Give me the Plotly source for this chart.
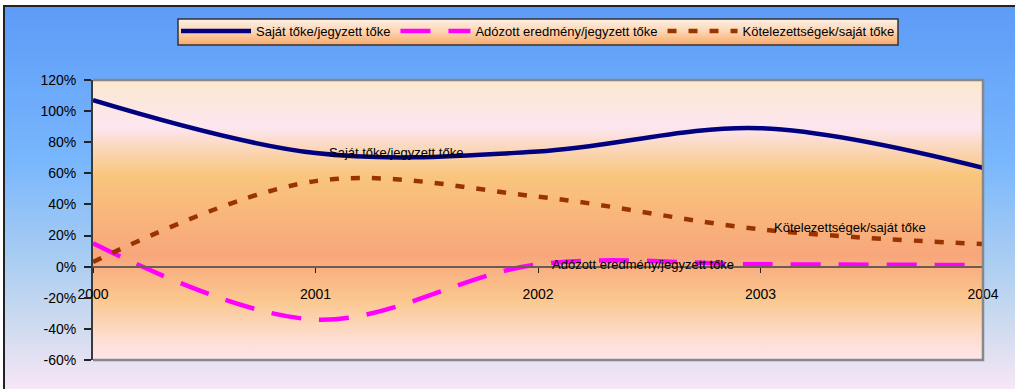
import base64
import plotly.graph_objects as go

# Financial ratios by year (percent)
years = [2000, 2001, 2002, 2003, 2004]
sajat_toke = [107, 73, 74, 89, 63.5]
adozott_eredmeny = [15, -34, 1.5, 1.5, 1]
kotelezettsegek = [3, 55, 45, 24, 14.5]

names = ["Saját tőke/jegyzett tőke", "Adózott eredmény/jegyzett tőke", "Kötelezettségek/saját tőke"]
y_ticks = [-60, -40, -20, 0, 20, 40, 60, 80, 100, 120]
y_tick_text = [f"{v}%" for v in y_ticks]
x_tick_text = [str(y) for y in years]

FONT = "Liberation Sans, Arial, sans-serif"

W, H = 1015, 389
L, R, T, B = 93, 32, 80, 29
PW, PH = W - L - R, H - T - B


def px_x(px):
    return (px - L) / PW


def px_y(py):
    return (H - B - py) / PH


def gradient(stops):
    parts = "".join(f'<stop offset="{o}" stop-color="{c}"/>' for o, c in stops)
    svg = (
        '<svg xmlns="http://www.w3.org/2000/svg" width="100" height="100" '
        'viewBox="0 0 100 100" preserveAspectRatio="none">'
        f'<defs><linearGradient id="g" x1="0" y1="0" x2="0" y2="1">{parts}</linearGradient></defs>'
        '<rect x="0" y="0" width="100" height="100" fill="url(#g)"/></svg>'
    )
    return "data:image/svg+xml;base64," + base64.b64encode(svg.encode()).decode()


outer_bg = gradient([(0, "#5d9bf8"), (0.40, "#78b6fd"), (0.66, "#a9cdf2"),
                     (0.85, "#d2dcef"), (1, "#f7e6f6")])
plot_bg = gradient([(0, "#fbe8ce"), (0.168, "#fde6f0"), (0.23, "#fbdac4"),
                    (0.34, "#f9c67c"), (0.48, "#f9b67c"), (0.625, "#f8a67b"),
                    (0.79, "#fbc890"), (0.91, "#fddccb"), (1, "#fde6ed")])
legend_bg = gradient([(0, "#fdf0e4"), (0.5, "#fcd4b0"), (1, "#f8a86a")])

fig = go.Figure()
fig.add_trace(go.Scatter(x=years, y=sajat_toke, name=names[0], mode="lines",
                         line=dict(color="#000080", width=4.5, shape="spline")))
fig.add_trace(go.Scatter(x=years, y=adozott_eredmeny, name=names[1], mode="lines",
                         line=dict(color="#ff00ff", width=4.5, shape="spline", dash="30px,18px")))
fig.add_trace(go.Scatter(x=years, y=kotelezettsegek, name=names[2], mode="lines",
                         line=dict(color="#993300", width=4.5, shape="spline", dash="9px,12px")))

images = [
    dict(source=outer_bg, xref="paper", yref="paper", x=px_x(4), y=px_y(6),
         sizex=(W - 4) / PW, sizey=(H - 6) / PH, xanchor="left", yanchor="top",
         sizing="stretch", layer="below"),
    dict(source=plot_bg, xref="paper", yref="paper", x=0, y=1, sizex=1, sizey=1,
         xanchor="left", yanchor="top", sizing="stretch", layer="below"),
    dict(source=legend_bg, xref="paper", yref="paper", x=px_x(178), y=px_y(19),
         sizex=720 / PW, sizey=26 / PH, xanchor="left", yanchor="top",
         sizing="stretch", layer="below"),
]

shapes = [
    # chart frame
    dict(type="rect", xref="paper", yref="paper", x0=px_x(4), y0=px_y(H + 20),
         x1=px_x(W + 20), y1=px_y(6), line=dict(color="#222222", width=2), layer="below"),
    # plot area frame (top, right, bottom)
    dict(type="path", xref="paper", yref="paper",
         path="M 0,1 L 1,1 L 1,0 L 0,0", line=dict(color="#888888", width=2.5)),
    # legend frame
    dict(type="rect", xref="paper", yref="paper", x0=px_x(178), y0=px_y(45),
         x1=px_x(898), y1=px_y(19), line=dict(color="#333333", width=1.5)),
]

label_font = dict(family=FONT, size=13, color="#000000")
annotations = [
    dict(x=2001.364, y=73.1, text=names[0], showarrow=False, font=label_font),
    dict(x=2002.474, y=1.1, text=names[1], showarrow=False, font=label_font),
    dict(x=2003.40, y=24.9, text=names[2], showarrow=False, font=label_font),
]

fig.update_layout(
    width=W, height=H,
    margin=dict(l=L, r=R, t=T, b=B),
    paper_bgcolor="#ffffff",
    plot_bgcolor="rgba(0,0,0,0)",
    font=dict(family=FONT, size=13, color="#000000"),
    showlegend=True,
    legend=dict(orientation="h", x=0.5, xanchor="center", y=px_y(16), yanchor="top",
                bgcolor="rgba(0,0,0,0)", borderwidth=0, font=dict(family=FONT, size=13),
                itemwidth=70, tracegroupgap=0),
    images=images,
    shapes=shapes,
    annotations=annotations,
    xaxis=dict(range=[2000, 2004], tickvals=years, ticktext=x_tick_text,
               anchor="free", position=60 / 180, showgrid=False, zeroline=False,
               showline=True, linecolor="#6b5d52", linewidth=2,
               ticks="outside", ticklen=5, tickcolor="#222222", tickwidth=1,
               ticklabelstandoff=10, tickfont=dict(family=FONT, size=14)),
    yaxis=dict(range=[-60, 120], tickvals=y_ticks, ticktext=y_tick_text, showgrid=False,
               zeroline=False, showline=True, linecolor="#3a3a3a", linewidth=2,
               ticks="outside", ticklen=7, tickcolor="#222222", tickwidth=1.5,
               ticklabelstandoff=5, tickfont=dict(family=FONT, size=14)),
)

fig.write_html("out.html")
